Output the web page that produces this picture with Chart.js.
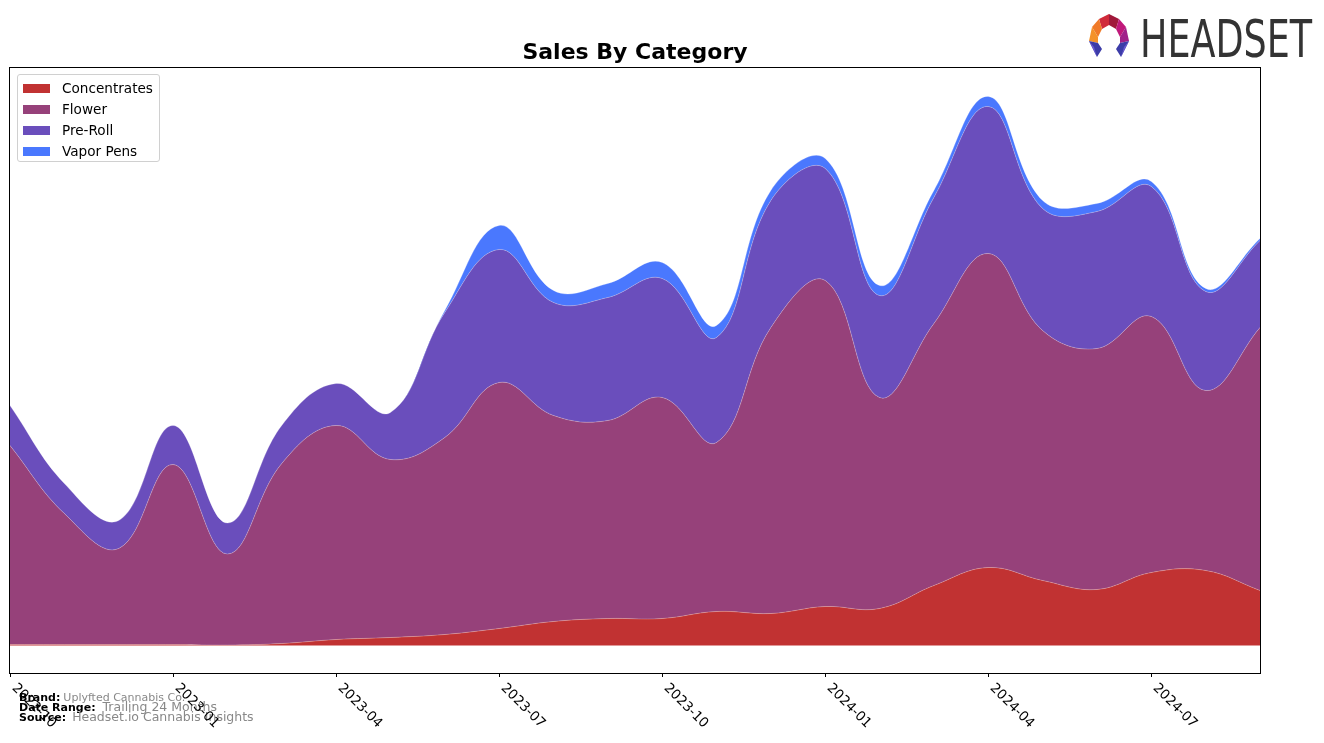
<!DOCTYPE html>
<html>
<head>
<meta charset="utf-8">
<script src="https://cdn.jsdelivr.net/npm/chart.js@4.4.1/dist/chart.umd.min.js"></script>
<style>
  body { margin: 0; background: #fff; font-family: "DejaVu Sans", sans-serif; }
  #wrap { position: relative; width: 1324px; height: 743px; overflow: hidden; }
  #chart { position: absolute; left: 0; top: 0; }
  .title { position: absolute; left: 0; width: 1270px; top: 39px; text-align: center; font-weight: bold; font-size: 22px; line-height: 26px; color: #000; }
  .legend { position: absolute; left: 17px; top: 74px; width: 141px; height: 86px; border: 1px solid #d0d0d0; border-radius: 3px; background: rgba(255,255,255,0.85); }
  .legend .row { position: absolute; left: 5px; height: 16px; font-size: 13.6px; color: #000; line-height: 16px; }
  .legend .sw { position: absolute; left: 0; top: 4px; width: 27px; height: 9px; }
  .legend .lb { position: absolute; left: 39px; top: 0; white-space: nowrap; }
  .tick { position: absolute; font-size: 13.5px; color: #000; white-space: nowrap; transform-origin: 0 0; transform: rotate(45deg); line-height: 15px; }
  .foot { position: absolute; left: 19px; white-space: nowrap; color: #000; line-height: 13px; }
  .foot b { font-size: 11px; }
  .foot span { color: #888; }
  .logo { position: absolute; left: 1140px; top: 9px; font-family: "Liberation Sans Narrow", "DejaVu Sans Condensed", sans-serif; font-size: 52px; color: #333; transform-origin: 0 0; transform: scaleX(0.78); }
</style>
</head>
<body>
<div id="wrap">
  <canvas id="chart" width="1324" height="743"></canvas>
  <div class="title">Sales By Category</div>
  <div class="legend" id="legend"></div>
  <svg style="position:absolute;left:1085px;top:13px" width="48" height="46" viewBox="0 0 48 46">
    <polygon points="14,6 24,1 24,12 17,16" fill="#d02a3a"/>
    <polygon points="24,1 34,6 31,16 24,12" fill="#a0183a"/>
    <polygon points="34,6 41,14 35,24 31,16" fill="#c0187a"/>
    <polygon points="14,6 7,14 13,24 17,16" fill="#f07a28"/>
    <polygon points="7,14 4,28 13,30 13,24" fill="#f4922a"/>
    <polygon points="41,14 44,28 35,30 35,24" fill="#a0208a"/>
    <polygon points="4,28 13,30 17,36 12,44" fill="#3c3ca8"/>
    <polygon points="44,28 35,30 31,36 36,44" fill="#3c3ca8"/>
    <polygon points="4,28 12,44 9,34" fill="#6a5ad0"/>
    <polygon points="44,28 36,44 39,34" fill="#6a5ad0"/>
  </svg>
  <div class="logo">HEADSET</div>
  <div class="foot" style="top:689px"><b>Brand:</b><span style="font-size:11px;margin-left:3px">Uplyfted Cannabis Co.</span></div>
  <div class="foot" style="top:699px"><b>Date Range:</b><span style="font-size:12.5px;margin-left:7px">Trailing 24 Months</span></div>
  <div class="foot" style="top:709px"><b>Source:</b><span style="font-size:12.5px;margin-left:6px">Headset.io Cannabis Insights</span></div>
</div>
<script>
const months = ['2022-10','2022-11','2022-12','2023-01','2023-02','2023-03','2023-04','2023-05','2023-06',
  '2023-07','2023-08','2023-09','2023-10','2023-11','2023-12','2024-01','2024-02','2024-03','2024-04',
  '2024-05','2024-06','2024-07','2024-08','2024-09'];
const tickMonths = ['2022-10','2023-01','2023-04','2023-07','2023-10','2024-01','2024-04','2024-07'];

const concentrates = [1, 1, 1, 1, 0.5, 2, 6, 8, 11, 17, 24, 27, 27, 34, 32, 39, 37, 60, 78, 65, 56, 73, 75, 55];
const flower = [199, 131, 96, 180, 91, 180, 214, 178, 197, 246, 206, 198, 221, 169, 286, 326, 211, 262, 314, 250, 241, 256, 180, 263];
const preRoll = [40, 30, 28, 39, 31, 38, 42, 47, 125, 133, 113, 123, 119, 105, 127, 112, 102, 126, 147, 122, 137, 130, 99, 87];
const vaporPens = [0, 0, 0, 0, 0, 0, 0, 0, 2, 24, 12, 14, 16, 12, 10, 10, 10, 7, 10, 8, 8, 5, 3, 2];

const seriesNames = ['Concentrates', 'Flower', 'Pre-Roll', 'Vapor Pens'];
const seriesColors = ['#c13232', '#96417a', '#6a4ebc', '#4a78fe'];
const seriesData = [concentrates, flower, preRoll, vaporPens];

// legend
const legend = document.getElementById('legend');
seriesNames.forEach((name, i) => {
  const row = document.createElement('div');
  row.className = 'row';
  row.style.top = (5 + i * 21) + 'px';
  row.innerHTML = `<div class="sw" style="background:${seriesColors[i]}"></div><div class="lb">${name}</div>`;
  legend.appendChild(row);
});

// frame + tick marks like the original axes
const framePlugin = {
  id: 'frame',
  afterDraw(chart) {
    const { ctx, chartArea: a } = chart;
    ctx.save();
    ctx.strokeStyle = '#000';
    ctx.lineWidth = 1;
    ctx.strokeRect(a.left - 0.5, a.top + 0.5, a.right - a.left + 1, a.bottom - a.top);
    tickMonths.forEach(m => {
      const x = Math.round(chart.scales.x.getPixelForValue(months.indexOf(m))) + 0.5;
      ctx.beginPath();
      ctx.moveTo(x, a.bottom);
      ctx.lineTo(x, a.bottom + 4);
      ctx.stroke();
    });
    ctx.restore();
  }
};

const chart = new Chart(document.getElementById('chart').getContext('2d'), {
  type: 'line',
  data: {
    labels: months,
    datasets: seriesData.map((d, i) => ({
      label: seriesNames[i],
      data: d,
      backgroundColor: seriesColors[i],
      borderColor: 'rgba(255,255,255,0.3)',
      borderWidth: 0.8,
      fill: i === 0 ? 'origin' : '-1',
      tension: 0.4,
      pointRadius: 0
    }))
  },
  options: {
    responsive: false,
    animation: false,
    devicePixelRatio: 1,
    layout: { padding: { left: 10, right: 64, top: 67, bottom: 70 } },
    plugins: { legend: { display: false }, tooltip: { enabled: false }, title: { display: false } },
    scales: {
      x: { display: false, offset: false },
      y: { display: false, stacked: true, min: -27.5, max: 578.5 }
    }
  },
  plugins: [framePlugin]
});

// rotated tick labels
const wrap = document.getElementById('wrap');
tickMonths.forEach(m => {
  const x = chart.scales.x.getPixelForValue(months.indexOf(m));
  const s = document.createElement('div');
  s.className = 'tick';
  s.textContent = m;
  s.style.left = (x + 10) + 'px';
  s.style.top = (chart.chartArea.bottom + 7) + 'px';
  wrap.appendChild(s);
});
</script>
</body>
</html>
